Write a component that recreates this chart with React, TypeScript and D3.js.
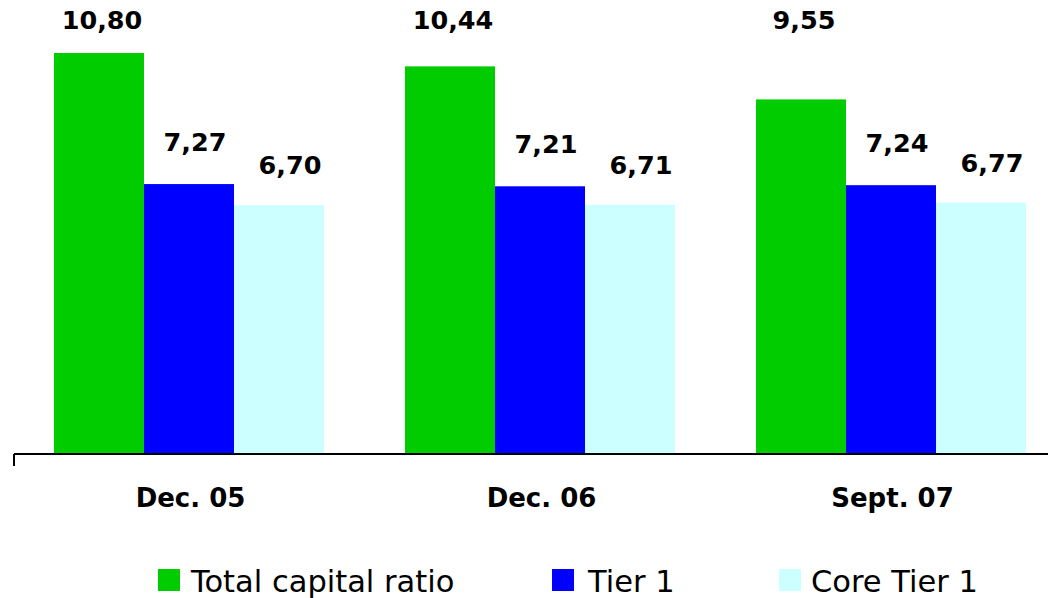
import React from "react";
import * as d3 from "d3";

const categories = ["Dec. 05", "Dec. 06", "Sept. 07"];
const seriesNames = ["Total capital ratio", "Tier 1", "Core Tier 1"];
const totalCapital = [10.8, 10.44, 9.55];
const tier1 = [7.27, 7.21, 7.24];
const coreTier1 = [6.7, 6.71, 6.77];
const seriesValues = [totalCapital, tier1, coreTier1];
const colors = ["#00CC00", "#0000FF", "#CCFFFF"];

const W = 1048;
const H = 598;
const baseY = 454;
const fmt = (v: number) => v.toFixed(2).replace(".", ",");

export default function App() {
  const x0 = d3.scaleBand<string>().domain(categories).range([14, 14 + 351 * 3]).paddingInner(0).paddingOuter(0);
  const x1 = d3.scaleBand<number>().domain([0, 1, 2]).range([40, 310]).padding(0);
  const y = d3.scaleLinear().domain([0, 12]).range([baseY, baseY - 12 * 37.13]);
  const labelDx = [3, 6, 11];
  const labelOffset = [0, 33, 31];
  const legendX = [158, 552, 779];
  const legendTextX = [191, 588, 811];

  return (
    <svg width={W} height={H} style={{ position: "absolute", left: 0, top: 0 }} fontFamily="DejaVu Sans, Verdana, sans-serif">
      <rect x={0} y={0} width={W} height={H} fill="#fff" />
      {categories.map((c, ci) => (
        <g key={c}>
          {seriesValues.map((vals, si) => {
            const bx = (x0(c) as number) + (x1(si) as number);
            const bw = x1.bandwidth();
            const top = y(vals[ci]);
            const ly = si === 0 ? 29 : top - labelOffset[si];
            return (
              <g key={si}>
                <rect x={bx} y={top} width={bw} height={baseY - top} fill={colors[si]} />
                <text x={bx + bw / 2 + labelDx[si]} y={ly} textAnchor="middle" fontSize={25.5} fontWeight="bold" fill="#000">
                  {fmt(vals[ci])}
                </text>
              </g>
            );
          })}
          <text x={(x0(c) as number) + x0.bandwidth() / 2 + 1} y={507} textAnchor="middle" fontSize={26} fontWeight="bold" fill="#000">
            {c}
          </text>
        </g>
      ))}
      <line x1={14} x2={W + 30} y1={baseY} y2={baseY} stroke="#000" strokeWidth={2} />
      <line x1={14} x2={14} y1={baseY} y2={466} stroke="#000" strokeWidth={2} />
      {seriesNames.map((n, i) => (
        <g key={n}>
          <rect x={legendX[i]} y={569} width={22} height={22} fill={colors[i]} />
          <text x={legendTextX[i]} y={592} fontSize={30.5} fill="#000">
            {n}
          </text>
        </g>
      ))}
    </svg>
  );
}
